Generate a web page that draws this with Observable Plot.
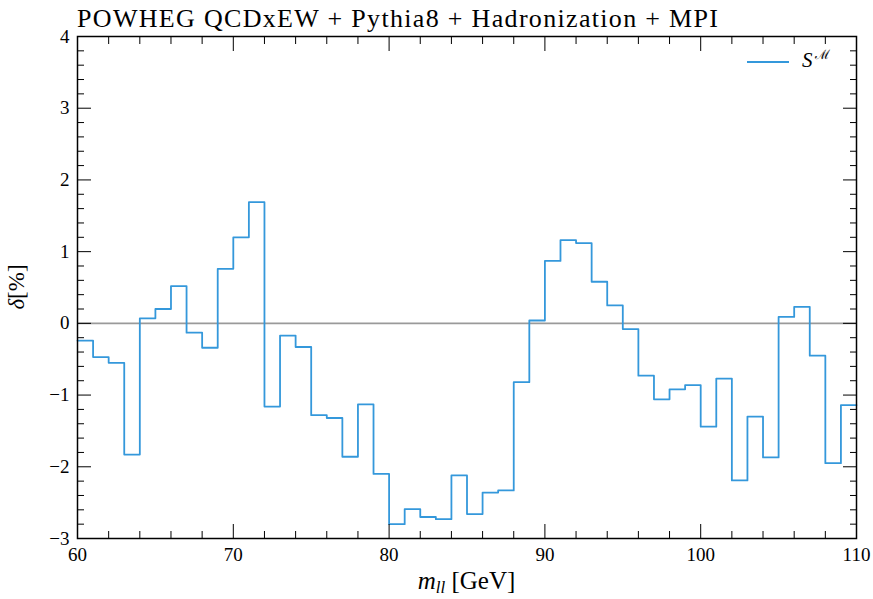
<!DOCTYPE html>
<html>
<head>
<meta charset="utf-8">
<script src="https://cdn.jsdelivr.net/npm/d3@7"></script>
<script src="https://cdn.jsdelivr.net/npm/@observablehq/plot@0.6"></script>
<style>
  html, body { margin: 0; padding: 0; background: #fff; }
  #chart { width: 873px; height: 599px; }
</style>
</head>
<body>
<div id="chart"></div>
<script>
(function () {
// ---- data ----
const titleText = "POWHEG QCDxEW + Pythia8 + Hadronization + MPI";
const binEdges = [60,61,62,63,64,65,66,67,68,69,70,71,72,73,74,75,76,77,78,79,80,81,82,83,84,85,86,87,88,89,90,91,92,93,94,95,96,97,98,99,100,101,102,103,104,105,106,107,108,109,110];
const delta = [
  -0.24, -0.47, -0.55, -1.83, 0.07, 0.20, 0.52, -0.13, -0.34, 0.76,
   1.20,  1.69, -1.16, -0.17, -0.33, -1.28, -1.32, -1.86, -1.13, -2.10,
  -2.80, -2.59, -2.70, -2.73, -2.12, -2.66, -2.36, -2.33, -0.82, 0.04,
   0.87,  1.16,  1.12,  0.58,  0.25, -0.08, -0.73, -1.06, -0.92, -0.86,
  -1.44, -0.77, -2.19, -1.30, -1.87,  0.09,  0.23, -0.45, -1.95, -1.14
];
const xTicksMajor = [60, 70, 80, 90, 100, 110];
const xTicksMinor = [62,64,66,68,72,74,76,78,82,84,86,88,92,94,96,98,102,104,106,108];
const yTicksMajor = [-3, -2, -1, 0, 1, 2, 3, 4];
const yTicksMinor = d3.range(-3, 4.001, 0.2).map(v => +v.toFixed(1)).filter(v => !yTicksMajor.includes(v));
const seriesLabel = "S";
const seriesSup = "ℳ";

// step data: each bin's value starts at its low edge, final point closes at last edge
const steps = delta.map((v, i) => ({x: binEdges[i], y: v}));
steps.push({x: binEdges[binEdges.length - 1], y: delta[delta.length - 1]});

const fmt = d => d < 0 ? "\u2212" + (-d) : String(d);
const blank = () => "";
const FONT = "'Liberation Serif', 'DejaVu Serif', serif";

const tickAxes = [];
for (const anchor of ["bottom", "top"]) {
  tickAxes.push(Plot.axisX({anchor, ticks: xTicksMinor, tickSize: -7, tickFormat: blank, label: null, strokeWidth: 1}));
  tickAxes.push(Plot.axisX({anchor, ticks: xTicksMajor, tickSize: -14, tickFormat: blank, label: null, strokeWidth: 1}));
}
for (const anchor of ["left", "right"]) {
  tickAxes.push(Plot.axisY({anchor, ticks: yTicksMinor, tickSize: -7, tickFormat: blank, label: null, strokeWidth: 1}));
  tickAxes.push(Plot.axisY({anchor, ticks: yTicksMajor, tickSize: -14, tickFormat: blank, label: null, strokeWidth: 1}));
}

const plot = Plot.plot({
  width: 873,
  height: 599,
  marginLeft: 77,
  marginRight: 17,
  marginTop: 36,
  marginBottom: 61,
  style: {fontFamily: FONT, fontSize: "18px", background: "#fff", color: "#000", overflow: "visible"},
  x: {domain: [60, 110], label: null},
  y: {domain: [-3, 4], label: null},
  marks: [
    Plot.ruleY([0], {stroke: "#9a9a9a", strokeWidth: 1.6}),
    Plot.line(steps, {x: "x", y: "y", curve: "step-after", stroke: "#3498db", strokeWidth: 1.8}),
    ...tickAxes,
    Plot.axisX({anchor: "bottom", ticks: xTicksMajor, tickSize: 0, tickPadding: 9, tickFormat: fmt, label: null, fontSize: 19}),
    Plot.axisY({anchor: "left", ticks: yTicksMajor, tickSize: 0, tickPadding: 8, tickFormat: fmt, label: null, fontSize: 19}),
    Plot.frame({stroke: "#000", strokeWidth: 1.5})
  ]
});

document.getElementById("chart").appendChild(plot);

// ---- text decorations (title, axis labels, legend) ----
const svg = d3.select(plot);
const xs = plot.scale("x"), ys = plot.scale("y");
const pl = xs.range[0], pr = xs.range[1];
const pt = ys.range[1], pb = ys.range[0];

svg.append("text")
  .attr("x", pl).attr("y", pt - 9)
  .attr("text-anchor", "start")
  .attr("font-family", FONT).attr("font-size", 26).attr("fill", "#000")
  .attr("textLength", 641).attr("lengthAdjust", "spacing")
  .text(titleText);

// x label: m_ll [GeV]
const xl = svg.append("text")
  .attr("x", (pl + pr) / 2).attr("y", pb + 51)
  .attr("text-anchor", "middle")
  .attr("font-family", FONT).attr("font-size", 25).attr("fill", "#000");
xl.append("tspan").attr("font-style", "italic").text("m");
xl.append("tspan").attr("font-style", "italic").attr("font-size", 17).attr("dy", 4).text("ll");
xl.append("tspan").attr("dy", -4).text(" [GeV]");

// y label: δ[%]
const yl = svg.append("text")
  .attr("transform", `translate(${pl - 53},${(pt + pb) / 2}) rotate(-90)`)
  .attr("text-anchor", "middle")
  .attr("font-family", FONT).attr("font-size", 23).attr("fill", "#000");
yl.append("tspan").attr("font-style", "italic").text("δ");
yl.append("tspan").text("[%]");

// legend
const lg = svg.append("g");
lg.append("line")
  .attr("x1", pr - 109).attr("x2", pr - 67)
  .attr("y1", pt + 26).attr("y2", pt + 26)
  .attr("stroke", "#3498db").attr("stroke-width", 1.8);
const lt = lg.append("text")
  .attr("x", pr - 54).attr("y", pt + 31)
  .attr("text-anchor", "start")
  .attr("font-family", FONT).attr("font-size", 21).attr("fill", "#000");
lt.append("tspan").attr("font-style", "italic").text(seriesLabel);
lt.append("tspan").attr("font-family", "'DejaVu Serif', serif").attr("font-size", 13).attr("dy", -8).attr("dx", 2).text(seriesSup);
})();
</script>
</body>
</html>
